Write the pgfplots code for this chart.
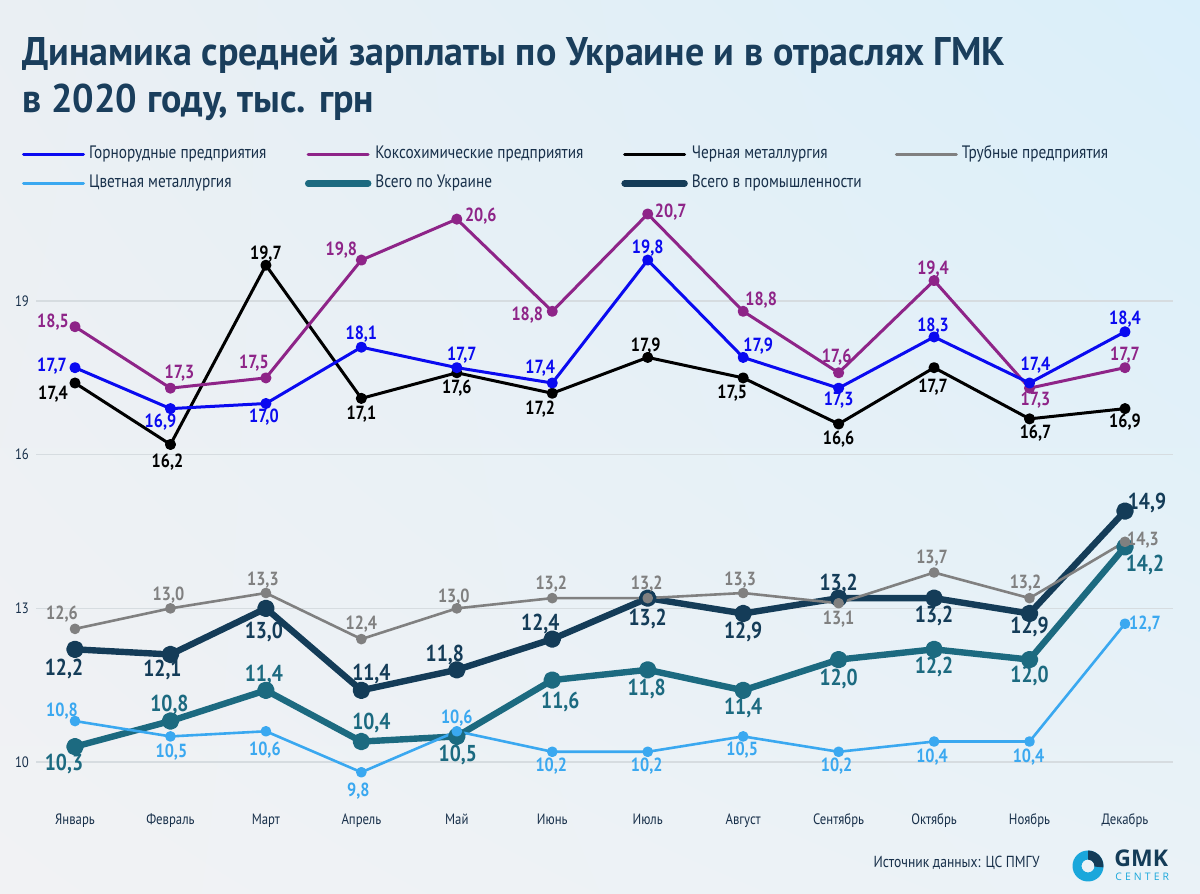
\documentclass[border=0pt]{standalone}
\usepackage{pgfplots}
\pgfplotsset{compat=1.18}
\usetikzlibrary{shadings,calc}
\usepackage{fontspec}
\setmainfont{PT Sans}[FakeStretch=0.85]
\newfontfamily\titlefont{PT Sans}[FakeStretch=0.95]
\newfontfamily\logofont{Open Sans}

\definecolor{cgor}{RGB}{10,10,240}
\definecolor{ckoks}{RGB}{142,36,136}
\definecolor{ccher}{RGB}{0,0,0}
\definecolor{ctrub}{RGB}{128,128,128}
\definecolor{ccvet}{RGB}{58,168,240}
\definecolor{cukr}{RGB}{28,106,128}
\definecolor{cprom}{RGB}{20,60,88}
\definecolor{ctitle}{RGB}{26,62,92}
\definecolor{ctext}{RGB}{24,48,74}
\definecolor{cgrid}{RGB}{214,220,224}
\definecolor{clogo}{RGB}{26,167,219}
\definecolor{bgul}{RGB}{234,239,243}
\definecolor{bgur}{RGB}{218,239,250}
\definecolor{bgll}{RGB}{241,242,244}
\definecolor{bglr}{RGB}{234,242,247}

\pgfplotsset{
  vals/.style 2 args={
    nodes near coords={\pgfmathprintnumber[fixed,fixed zerofill,precision=1,use comma,assume math mode=true]{\pgfplotspointmeta}},
    point meta=y,
    visualization depends on={value \thisrow{dx}\as\ldx},
    visualization depends on={value \thisrow{dy}\as\ldy},
    every node near coord/.append style={anchor=center, inner sep=0pt, text depth=0pt,
      xshift={\ldx*0.5pt}, yshift={\ldy*(-0.5pt)}, font=#1, text=#2},
  },
  thinline/.style 2 args={line width=#2, color=#1, mark=*, mark size=2pt,
    mark options={solid, fill=#1, draw=#1}, line join=round,
    vals={\bfseries\fontsize{9.5}{10}\selectfont}{#1}},
  thickline/.style={line width=3.2pt, color=#1, mark=*, mark size=2.8pt,
    mark options={solid, fill=#1, draw=#1}, line join=round,
    vals={\bfseries\fontsize{11.5}{12}\selectfont}{#1}},
}

\begin{document}
\begin{tikzpicture}
\shade[upper left=bgul, upper right=bgur, lower left=bgll, lower right=bglr]
  (0pt,0pt) rectangle (600pt,447pt);

\begin{axis}[
  at={(18pt,45.5pt)}, anchor=south west,
  scale only axis, width=568.5pt, height=307.3pt,
  xmin=-0.4086, xmax=11.503, ymin=9.2, ymax=21.2,
  clip=false,
  axis line style={draw=none},
  major tick length=0pt,
  ytick={10,13,16,19},
  ymajorgrids, grid style={cgrid, line width=0.6pt},
  xtick={0,...,11},
  xticklabels={Январь,Февраль,Март,Апрель,Май,Июнь,Июль,Август,Сентябрь,Октябрь,Ноябрь,Декабрь},
  ticklabel style={font=\fontsize{7.5}{9}\selectfont, text=ctext},
  xticklabel style={yshift=-2pt},
  /pgf/number format/assume math mode=true,
  legend columns=4,
  legend cell align=left,
  legend image code/.code={\draw[#1, line cap=round] (0pt,0pt) -- (30pt,0pt); \path (32pt,0pt);},
  legend style={at={(rel axis cs:-0.01231,1.0674)}, anchor=north west,
    draw=none, fill=none, inner sep=0pt, outer sep=0pt,
    row sep=7pt, column sep=0pt,
    font=\fontsize{9}{10}\selectfont,
    nodes={inner sep=0pt, text height=6pt, text depth=1.5pt, text=ctext}},
]
\addlegendimage{line width=1.5pt, cgor}
\addlegendentry{\makebox[108pt][l]{Горнорудные предприятия}}
\addlegendimage{line width=1.5pt, ckoks}
\addlegendentry{\makebox[123pt][l]{Коксохимические предприятия}}
\addlegendimage{line width=1.5pt, ccher}
\addlegendentry{\makebox[101.5pt][l]{Черная металлургия}}
\addlegendimage{line width=1.5pt, ctrub}
\addlegendentry{Трубные предприятия}
\addlegendimage{line width=1.5pt, ccvet}
\addlegendentry{\makebox[108pt][l]{Цветная металлургия}}
\addlegendimage{line width=3.2pt, cukr}
\addlegendentry{\makebox[123pt][l]{Всего по Украине}}
\addlegendimage{line width=3.2pt, cprom}
\addlegendentry{\makebox[101.5pt][l]{Всего в промышленности}}

% x = month (0 = Jan), y = value, dx/dy = label offset in px (dy downwards)
% Всего по Украине
\addplot[thickline=cukr, forget plot] table {
x y dx dy
0 10.3 -11 16
1 10.8 -1 -18
2 11.4 -2 -17
3 10.4 10 -20
4 10.5 1 17
5 11.6 8 20
6 11.8 -1 17
7 11.4 0 16
8 12.0 0 18
9 12.2 0 16
10 12.0 0 15
11 14.2 20 16
};
% Всего в промышленности
\addplot[thickline=cprom, forget plot] table {
x y dx dy
0 12.2 -11 18
1 12.1 -8 14
2 13.0 -2 22
3 11.4 10 -18
4 11.8 -12 -17
5 12.4 -12 -17
6 13.2 0 19
7 12.9 0 17
8 13.2 0 -16
9 13.2 0 16
10 12.9 0 12
11 14.9 22 -10
};
% Трубные
\addplot[thinline={ctrub}{1.3pt}, forget plot] table {
x y dx dy
0 12.6 -13 -16
1 13.0 -2 -15
2 13.3 -3 -14
3 12.4 0 -16
4 13.0 -3 -13
5 13.2 -1 -15
6 13.2 -1 -15
7 13.3 -3 -14
8 13.1 0 14
9 13.7 -2 -16
10 13.2 -4 -16
11 14.3 18 -3
};
% Цветная металлургия
\addplot[thinline={ccvet}{1.3pt}, forget plot] table {
x y dx dy
0 10.8 -13 -11
1 10.5 1 14
2 10.6 -1 17
3 9.8 -3 17
4 10.6 0 -15
5 10.2 -1 13
6 10.2 -1 13
7 10.5 -1 12
8 10.2 -2 13
9 10.4 -2 14
10 10.4 -1 14
11 12.7 20 -1
};
% Черная металлургия
\addplot[thinline={ccher}{1.5pt}, forget plot] table {
x y dx dy
0 17.4 -22 10
1 16.2 -3 16
2 19.7 0 -13
3 17.1 0 14
4 17.6 0 14
5 17.2 -12 14
6 17.9 -2 -13
7 17.5 -11 14
8 16.6 0 14
9 17.7 -1 18
10 16.7 6 13
11 16.9 0 12
};
% Коксохимические
\addplot[thinline={ckoks}{1.5pt}, forget plot] table {
x y dx dy
0 18.5 -22 -6
1 17.3 9 -16
2 17.5 -12 -16
3 19.8 -20 -11
4 20.6 24 -4
5 18.8 -25 2
6 20.7 23 -3
7 18.8 18 -13
8 17.6 -2 -17
9 19.4 -1 -13
10 17.3 6 11
11 17.7 0 -14
};
% Горнорудные
\addplot[thinline={cgor}{1.5pt}, forget plot] table {
x y dx dy
0 17.7 -23 -3
1 16.9 -10 12
2 17.0 -2 12
3 18.1 0 -14
4 17.7 5 -14
5 17.4 -12 -16
6 19.8 0 -13
7 17.9 15 -13
8 17.3 0 11
9 18.3 -1 -12
10 17.4 6 -19
11 18.4 0 -14
};
\end{axis}

\begin{scope}[x=0.5pt, y=-0.5pt, shift={(0pt,447pt)}]
  \node[anchor=base west, inner sep=0pt, text=ctitle,
    font=\titlefont\bfseries\fontsize{20}{24}\selectfont] at (22,66)
    {Динамика средней зарплаты по Украине и в отраслях ГМК};
  \node[anchor=base west, inner sep=0pt, text=ctitle,
    font=\titlefont\bfseries\fontsize{20}{24}\selectfont] at (22,113)
    {в 2020 году, тыс. грн};
  \node[anchor=base east, inner sep=0pt, text=ctext,
    font=\fontsize{8}{10}\selectfont] at (1040,868)
    {Источник данных: ЦС ПМГУ};
  % logo (y axis points down here, so angles are mirrored)
  \fill[clogo, even odd rule] (1088,866) circle[radius=15.5] circle[radius=6.5];
  \fill[cprom] ($(1088,866)+(-90:15.5)$) arc[start angle=-90, end angle=5, radius=15.5]
    -- ($(1088,866)+(5:6.5)$) arc[start angle=5, end angle=-90, radius=6.5] -- cycle;
  \node[anchor=base west, inner sep=0pt, text=cprom,
    font=\logofont\bfseries\fontsize{11.5}{12}\selectfont] at (1114,866.7) {GMK};
  \node[anchor=base west, inner sep=0pt, text=clogo,
    font=\logofont\addfontfeatures{LetterSpace=30}\fontsize{5.2}{6}\selectfont] at (1115,880.7) {CENTER};
\end{scope}

\pgfresetboundingbox
\useasboundingbox (0pt,0pt) rectangle (600pt,447pt);
\end{tikzpicture}
\end{document}
